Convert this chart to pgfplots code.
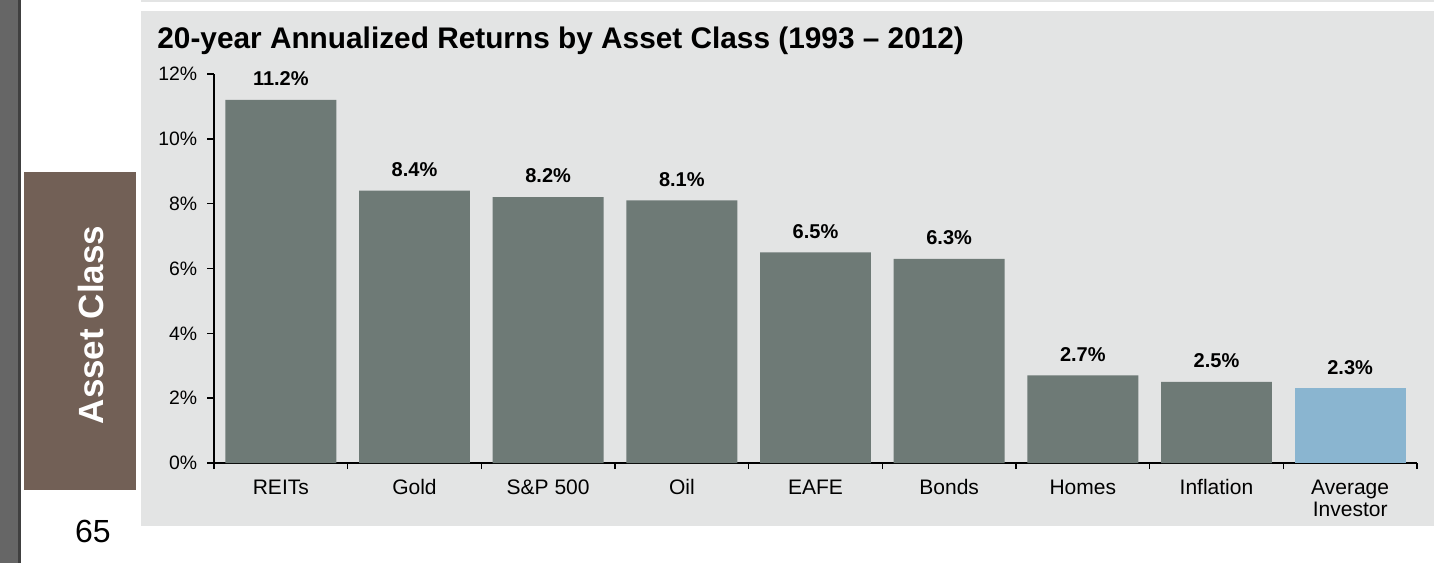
\documentclass[border=0pt]{standalone}
\usepackage{pgfplots}
\pgfplotsset{compat=1.18}
\usepackage{fontspec}
\setmainfont{Liberation Sans}
\definecolor{bargray}{RGB}{110,122,118}
\definecolor{barblue}{RGB}{138,181,208}
\definecolor{panel}{RGB}{227,228,228}
\definecolor{brownbox}{RGB}{114,96,86}
\definecolor{stripgray}{RGB}{102,102,102}
\begin{document}
\begin{tikzpicture}
\useasboundingbox (0,0) rectangle (717pt,-281.5pt);
\fill[white] (0,0) rectangle (717pt,-281.5pt);
\fill[stripgray] (0,0) rectangle (9pt,-281.5pt);
\fill[black!75] (9pt,0) rectangle (10.5pt,-281.5pt);
\fill[panel] (70.5pt,0) rectangle (717pt,-1pt);
\fill[panel] (70.5pt,-5.5pt) rectangle (717pt,-263pt);
\fill[brownbox] (12pt,-86pt) rectangle (68pt,-245pt);
\node[rotate=90,anchor=base,text=white,inner sep=0pt,font=\bfseries\fontsize{17.5}{20}\selectfont] at (51.5pt,-162.5pt) {Asset Class};
\node[anchor=base,inner sep=0pt,font=\fontsize{16}{19}\selectfont] at (46.5pt,-271pt) {65};
\node[anchor=base west,inner sep=0pt,font=\bfseries\fontsize{14.9}{17}\selectfont] at (78.5pt,-24pt) {20-year Annualized Returns by Asset Class (1993 – 2012)};
\begin{axis}[
  at={(107pt,-231.5pt)}, anchor=south west,
  scale only axis, width=601.5pt, height=194.5pt,
  xmin=-0.5, xmax=8.5, ymin=0, ymax=12,
  separate axis lines,
  axis x line*=bottom, axis y line*=left,
  axis line style={-, black, line width=1pt},
  xtick={0,...,8},
  xticklabels={REITs,Gold,S\&P 500,Oil,EAFE,Bonds,Homes,Inflation,{\begin{tabular}[t]{@{}c@{}}Average\\Investor\end{tabular}}},
  major x tick style={draw=none},
  minor xtick={-0.5,0.5,...,8.5},
  ytick={0,2,...,12},
  yticklabels={0\%,2\%,4\%,6\%,8\%,10\%,12\%},
  tick align=outside,
  major tick length=3.5pt, minor tick length=3pt,
  tick style={black, line width=0.8pt},
  xticklabel style={font=\fontsize{10.5}{11.4}\selectfont, inner sep=0pt, anchor=base, yshift=-12pt},
  yticklabel style={font=\fontsize{9.7}{11}\selectfont, inner sep=0pt, xshift=-4.75pt},
  ybar, bar width=0.83,
  /pgf/number format/assume math mode=true,
  nodes near coords={\pgfmathprintnumber[fixed,fixed zerofill,precision=1]{\pgfplotspointmeta}\%},
  nodes near coords style={font=\bfseries\fontsize{10}{11}\selectfont, inner sep=0pt, anchor=south, yshift=6.8pt, text=black},
  clip=false,
]
\addplot[fill=bargray, draw=none, bar shift=0pt] coordinates {(0,11.2) (1,8.4) (2,8.2) (3,8.1) (4,6.5) (5,6.3) (6,2.7) (7,2.5)};
\addplot[fill=barblue, draw=none, bar shift=0pt] coordinates {(8,2.3)};
\end{axis}
\end{tikzpicture}
\end{document}
